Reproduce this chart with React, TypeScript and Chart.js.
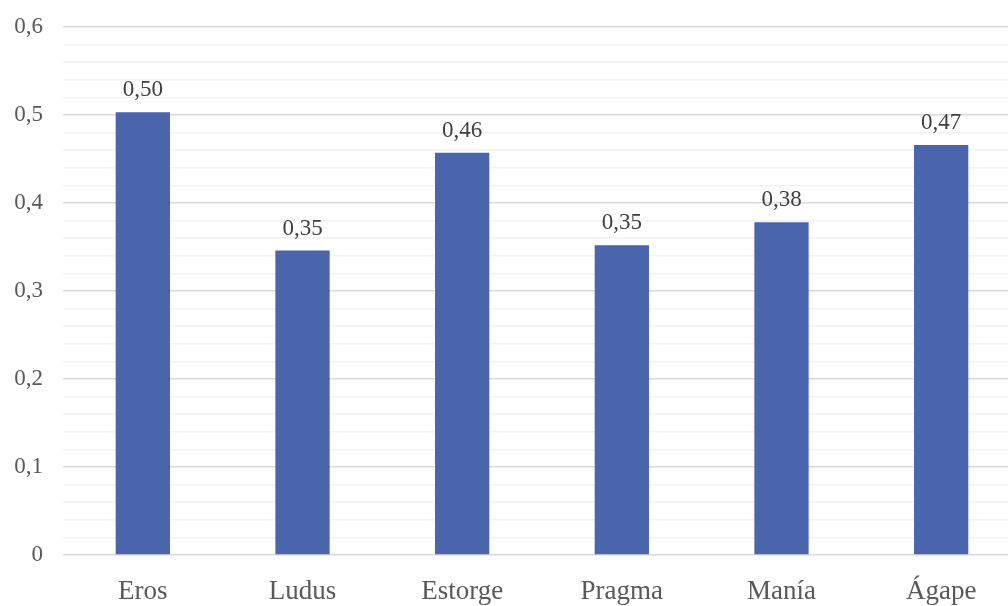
import React, { useEffect, useRef } from "react";
import { Chart, registerables } from "chart.js";

Chart.register(...registerables);

const categories = ["Eros", "Ludus", "Estorge", "Pragma", "Manía", "Ágape"];
const values = [0.503, 0.346, 0.457, 0.352, 0.378, 0.466];
const yMin = 0;
const yMax = 0.6;
const yMinorStep = 0.02;

const FONT = '"Liberation Serif", "Times New Roman", serif';
const fmt = (v: number, d: number) => v.toFixed(d).replace(".", ",");

const dataLabels = {
  id: "dataLabels",
  afterDatasetsDraw(chart: any) {
    const ctx = chart.ctx;
    const meta = chart.getDatasetMeta(0);
    ctx.save();
    ctx.font = `23px ${FONT}`;
    ctx.fillStyle = "#404040";
    ctx.textAlign = "center";
    ctx.textBaseline = "alphabetic";
    meta.data.forEach((bar: any, i: number) => {
      const v = chart.data.datasets[0].data[i];
      ctx.fillText(fmt(v, 2), bar.x, bar.y - 16);
    });
    ctx.restore();
  },
};

export default function App() {
  const ref = useRef<HTMLCanvasElement>(null);
  useEffect(() => {
    if (!ref.current) return;
    const chart = new Chart(ref.current, {
      type: "bar",
      data: {
        labels: categories,
        datasets: [
          {
            data: values,
            backgroundColor: "#4A65AC",
            categoryPercentage: 1,
            barPercentage: 0.34,
          },
        ],
      },
      plugins: [dataLabels],
      options: {
        animation: false,
        responsive: true,
        maintainAspectRatio: false,
        layout: { padding: { top: 27, left: 0, right: 0, bottom: 0 } },
        plugins: { legend: { display: false }, tooltip: { enabled: false } },
        scales: {
          x: {
            grid: { display: false, drawTicks: false },
            border: { display: false },
            ticks: { color: "#595959", font: { family: FONT, size: 27 }, padding: 21 },
            afterFit: (s: any) => {
              s.height = 51;
            },
          },
          y: {
            min: yMin,
            max: yMax,
            grid: {
              drawTicks: false,
              color: (c: any) => (c.index % 5 === 0 ? "#d9d9d9" : "#f2f2f2"),
              lineWidth: 1.5,
            },
            border: { display: false },
            ticks: {
              stepSize: yMinorStep,
              autoSkip: false,
              maxTicksLimit: 100,
              color: "#595959",
              font: { family: FONT, size: 23 },
              padding: 20,
              callback: (v: any, i: number) => {
                if (i % 5 !== 0) return "";
                const n = Number(v);
                return n === 0 ? "0" : fmt(n, 1);
              },
            },
            afterFit: (s: any) => {
              s.width = 63;
              s.paddingTop = 0;
              s.paddingBottom = 0;
            },
          },
        },
      },
    });
    return () => chart.destroy();
  }, []);
  return (
    <div style={{ position: "fixed", left: 0, top: 0, width: 1008, height: 606, overflow: "hidden", background: "#fff" }}>
      <div style={{ position: "absolute", left: 0, top: 0, width: 1021, height: 606 }}>
        <canvas ref={ref} />
      </div>
    </div>
  );
}
